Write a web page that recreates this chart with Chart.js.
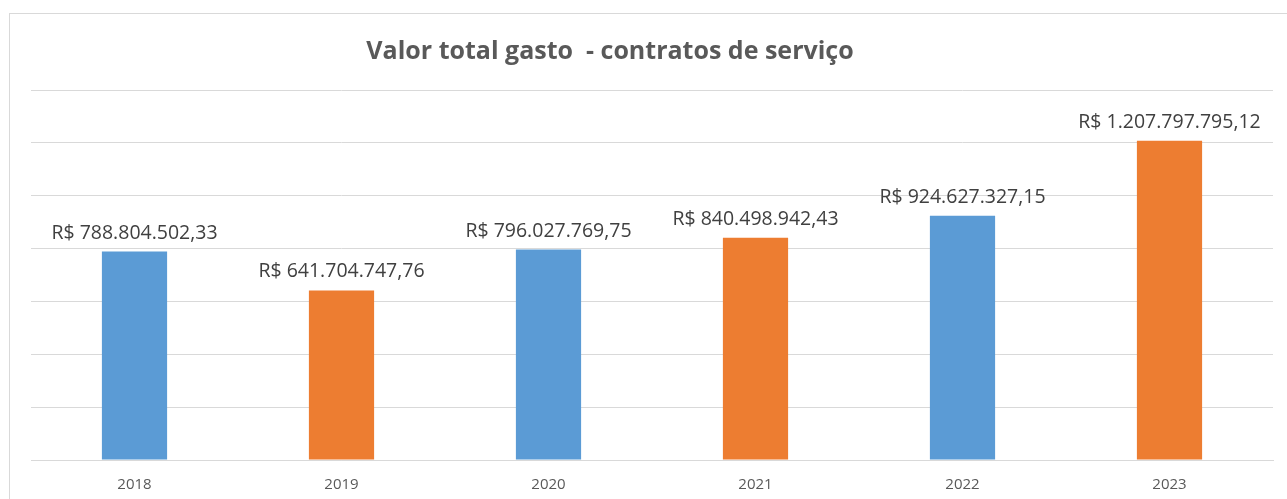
<!DOCTYPE html>
<html><head><meta charset="utf-8">
<script src="https://cdn.jsdelivr.net/npm/chart.js@4"></script>
<style>html,body{margin:0;padding:0;background:#fff;overflow:hidden}#wrap{width:1287px;height:499px;position:relative}</style>
</head><body><div id="wrap"><canvas id="c" width="1287" height="499"></canvas></div>
<script>
const categories = ['2018','2019','2020','2021','2022','2023'];
const values = [788804502.33, 641704747.76, 796027769.75, 840498942.43, 924627327.15, 1207797795.12];
const valueLabels = ['R$ 788.804.502,33','R$ 641.704.747,76','R$ 796.027.769,75','R$ 840.498.942,43','R$ 924.627.327,15','R$ 1.207.797.795,12'];
const barColors = ['#5B9BD5','#ED7D31','#5B9BD5','#ED7D31','#5B9BD5','#ED7D31'];
const titleText = 'Valor total gasto  - contratos de serviço';
const FONT = "'Open Sans', 'Liberation Sans', sans-serif";

const framePlugin = {
  id: 'frame',
  beforeDraw(chart) {
    const ctx = chart.ctx;
    ctx.save();
    ctx.strokeStyle = '#d9d9d9';
    ctx.lineWidth = 1;
    ctx.strokeRect(9.5, 13.5, 1300, 520);
    ctx.restore();
  },
  afterDraw(chart) {
    const ctx = chart.ctx;
    ctx.save();
    ctx.fillStyle = '#595959';
    ctx.font = "bold 25px " + FONT;
    ctx.textAlign = 'center';
    ctx.textBaseline = 'middle';
    ctx.fillText(titleText, 610, 52);
    const meta = chart.getDatasetMeta(0);
    ctx.fillStyle = '#404040';
    ctx.font = "19.5px " + FONT;
    ctx.textBaseline = 'alphabetic';
    meta.data.forEach((bar, i) => {
      ctx.fillText(valueLabels[i], bar.x, bar.y - 13);
    });
    ctx.restore();
  }
};

new Chart(document.getElementById('c'), {
  type: 'bar',
  data: {
    labels: categories,
    datasets: [{ data: values, backgroundColor: barColors, borderWidth: 0, barPercentage: 0.63, categoryPercentage: 0.5 }]
  },
  options: {
    responsive: false,
    animation: false,
    devicePixelRatio: 1,
    layout: { padding: { left: 31, right: 14, top: 90, bottom: -11 } },
    plugins: { legend: { display: false }, title: { display: false }, tooltip: { enabled: false } },
    scales: {
      x: {
        grid: { display: false, drawTicks: false },
        border: { display: true, color: '#d9d9d9' },
        ticks: { color: '#595959', font: { family: FONT, size: 15 }, padding: 16 }
      },
      y: {
        min: 0, max: 1400000000,
        ticks: { display: false, stepSize: 200000000 },
        grid: { color: '#d9d9d9', drawTicks: false },
        border: { display: false }
      }
    }
  },
  plugins: [framePlugin]
});
</script></body></html>
